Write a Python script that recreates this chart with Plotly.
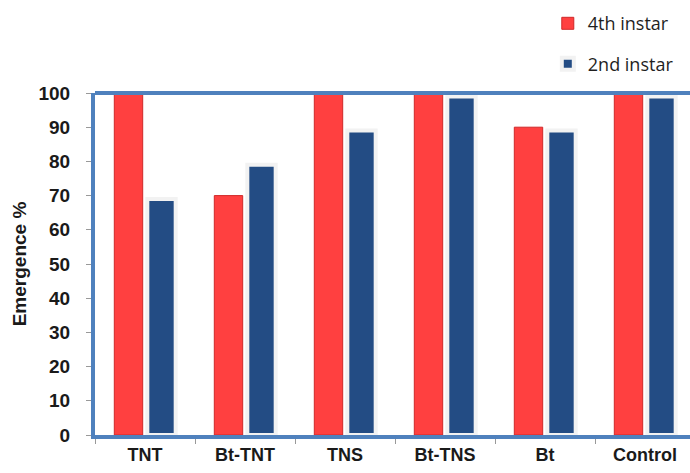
import plotly.graph_objects as go

categories = ["TNT", "Bt-TNT", "TNS", "Bt-TNS", "Bt", "Control"]
instar4 = [100, 70, 100, 100, 90, 100]
instar2 = [69, 79, 89, 99, 89, 99]
yticks = [0, 10, 20, 30, 40, 50, 60, 70, 80, 90, 100]

fig = go.Figure()
fig.add_trace(go.Bar(
    x=categories, y=instar4, name="4th instar", legendgroup="a",
    marker=dict(color="#FF4040", line=dict(color="#D02828", width=1)),
))
fig.add_trace(go.Bar(
    x=categories, y=instar2, name="2nd instar", legendgroup="b",
    marker=dict(color="#234C84", line=dict(color="#F2F2F2", width=4)),
))

frame = "#4F81BD"
fig.update_layout(
    width=690, height=473,
    margin=dict(l=95, r=0, t=93, b=38),
    paper_bgcolor="white", plot_bgcolor="white",
    barmode="group", bargap=0.34, bargroupgap=0.14,
    font=dict(family="Liberation Sans, Arial", size=15, color="#1a1a1a"),
    showlegend=True,
    legend=dict(x=0.761, xanchor="left", y=1.257, yanchor="top",
                tracegroupgap=14, traceorder="grouped",
                font=dict(family="Open Sans, Liberation Sans", size=18, color="#1f1f1f"),
                bgcolor="rgba(0,0,0,0)"),
    xaxis=dict(range=[-0.5, 5.45], showgrid=False, showline=True,
               linecolor=frame, linewidth=4, ticks="outside",
               tickson="boundaries", ticklen=5, tickcolor="#999999",
               tickfont=dict(family="Liberation Sans, Arial", size=18,
                             color="#1a1a1a", weight="bold"),
               fixedrange=True),
    yaxis=dict(range=[0, 100], tickvals=yticks, showgrid=False, showline=True,
               linecolor=frame, linewidth=4, ticks="outside", ticklen=5,
               tickcolor="#999999", ticklabelstandoff=12,
               tickfont=dict(family="Liberation Sans, Arial", size=19,
                             color="#1a1a1a", weight="bold"),
               title=dict(text="Emergence %", standoff=8,
                          font=dict(family="Liberation Sans, Arial", size=19,
                                    color="#1a1a1a", weight="bold")),
               zeroline=False, fixedrange=True),
)

fig.add_shape(type="line", xref="paper", yref="paper", x0=0, x1=1, y0=1, y1=1,
              line=dict(color=frame, width=4))

fig.write_html("out.html", config={"displayModeBar": False},
               post_script="document.body.style.margin='0';")
